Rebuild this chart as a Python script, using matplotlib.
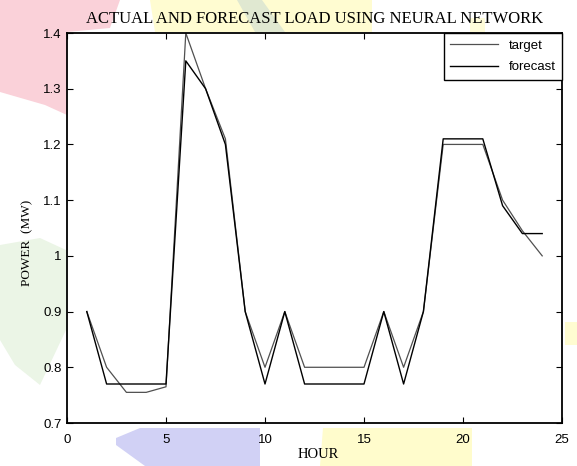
import matplotlib
matplotlib.use("Agg")
import matplotlib.pyplot as plt
from matplotlib.patches import Polygon

hours = list(range(1, 25))
target = [0.90, 0.80, 0.755, 0.755, 0.765, 1.40, 1.30, 1.21, 0.90, 0.80, 0.90, 0.80,
          0.80, 0.80, 0.80, 0.90, 0.80, 0.90, 1.20, 1.20, 1.20, 1.10, 1.045, 1.00]
forecast = [0.90, 0.77, 0.77, 0.77, 0.77, 1.35, 1.30, 1.20, 0.90, 0.77, 0.90, 0.77,
            0.77, 0.77, 0.77, 0.90, 0.77, 0.90, 1.21, 1.21, 1.21, 1.09, 1.04, 1.04]
xticks = [0, 5, 10, 15, 20, 25]
yticks = [0.7, 0.8, 0.9, 1.0, 1.1, 1.2, 1.3, 1.4]
yticklabels = ["0.7", "0.8", "0.9", "1", "1.1", "1.2", "1.3", "1.4"]

W, H = 577, 466
fig = plt.figure(figsize=(W / 100, H / 100), dpi=100)

def fpoly(pts, color):
    p = Polygon([(x / W, 1 - y / H) for x, y in pts], closed=True,
                transform=fig.transFigure, facecolor=color, edgecolor='none', zorder=-10)
    fig.patches.append(p)

# faint background watermark blobs
fpoly([(0, 0), (120, 0), (110, 28), (67, 32), (67, 115), (45, 105), (0, 92)], (0.98, 0.82, 0.85))
fpoly([(150, 0), (372, 0), (372, 32), (155, 32)], (1.0, 0.99, 0.82))
fpoly([(237, 0), (262, 0), (285, 32), (255, 32)], (0.88, 0.91, 0.82))
fpoly([(470, 18), (485, 18), (485, 32), (470, 32)], (1.0, 0.99, 0.85))
fpoly([(0, 245), (40, 238), (66, 250), (66, 330), (40, 385), (15, 365), (0, 340)], (0.92, 0.96, 0.90))
fpoly([(140, 428), (260, 428), (260, 466), (145, 466), (116, 445), (116, 438)], (0.82, 0.82, 0.96))
fpoly([(323, 428), (472, 428), (472, 466), (320, 466)], (1.0, 0.99, 0.80))
fpoly([(565, 322), (577, 322), (577, 345), (565, 345)], (1.0, 0.99, 0.82))

ax = fig.add_axes([67 / W, 1 - 423 / H, (562 - 67) / W, (423 - 33) / H])
ax.patch.set_alpha(0)
ax.plot(hours, target, color='#505050', lw=0.9, label='target')
ax.plot(hours, forecast, color='black', lw=1.0, label='forecast')

ax.set_xlim(0, 25)
ax.set_ylim(0.7, 1.4)
ax.set_xticks(xticks)
ax.set_yticks(yticks)
ax.set_yticklabels(yticklabels)
ax.tick_params(direction='in', top=True, right=True, length=4, width=0.8,
               labelsize=9.5, pad=4)
ax.tick_params(axis='x', pad=8)
for lab in ax.get_xticklabels() + ax.get_yticklabels():
    lab.set_family('Liberation Sans')
for s in ax.spines.values():
    s.set_linewidth(1.3)

ax.set_title('ACTUAL AND FORECAST LOAD USING NEURAL NETWORK',
             family='Liberation Serif', fontsize=12, pad=7)
ax.set_xlabel('HOUR', family='Liberation Serif', fontsize=10.5)
ax.xaxis.set_label_coords((318 - 67) / 495, -(448 - 423) / 390)
ax.set_ylabel('POWER  (MW)', family='Liberation Serif', fontsize=9.5)
ax.yaxis.set_label_coords((33 - 67) / 495, (423 - 243) / 390)

leg = ax.legend(loc='upper right', prop={'family': 'Liberation Sans', 'size': 9.5},
                fancybox=False, edgecolor='black', framealpha=1, handlelength=3.6,
                handletextpad=0.8, borderaxespad=0, borderpad=0.5, labelspacing=0.7)
leg.get_frame().set_linewidth(1.0)

fig.savefig('out.png', dpi=100)
